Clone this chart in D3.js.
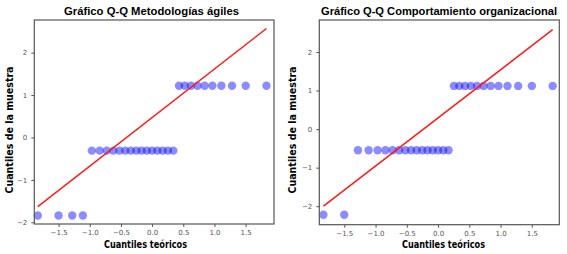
<!DOCTYPE html>
<html><head><meta charset="utf-8">
<script src="https://cdn.jsdelivr.net/npm/d3@7"></script>
<style>html,body{margin:0;padding:0;background:#fff;}svg{display:block;}</style>
</head><body>
<svg id="c" width="567" height="254"></svg>
<script>
const theoQ = [-1.834,-1.501,-1.282,-1.111,-0.967,-0.842,-0.728,-0.623,-0.524,-0.431,-0.341,-0.253,-0.168,-0.084,0,0.084,0.168,0.253,0.341,0.431,0.524,0.623,0.728,0.842,0.967,1.111,1.282,1.501,1.834];
// Sample quantiles, panel 1: Metodologías ágiles
const sampleAgiles = [-1.84,-1.84,-1.84,-1.84,-0.31,-0.31,-0.31,-0.31,-0.31,-0.31,-0.31,-0.31,-0.31,-0.31,-0.31,-0.31,-0.31,-0.31,-0.31,1.22,1.22,1.22,1.22,1.22,1.22,1.22,1.22,1.22,1.22];
// Sample quantiles, panel 2: Comportamiento organizacional
const sampleComport = [-2.22,-2.22,-0.55,-0.55,-0.55,-0.55,-0.55,-0.55,-0.55,-0.55,-0.55,-0.55,-0.55,-0.55,-0.55,-0.55,-0.55,1.12,1.12,1.12,1.12,1.12,1.12,1.12,1.12,1.12,1.12,1.12,1.12];
// Reference lines (x, y endpoints)
const lineAgilesX = [-1.834, 1.834], lineAgilesY = [-1.63, 2.57];
const lineComportX = [-1.834, 1.834], lineComportY = [-2.00, 2.58];
const titles = ["Gráfico Q-Q Metodologías ágiles", "Gráfico Q-Q Comportamiento organizacional"];
const xTicks = [-1.5,-1.0,-0.5,0.0,0.5,1.0,1.5];
const yTicks = [-2,-1,0,1,2];
const xLabel = "Cuantiles teóricos", yLabel = "Cuantiles de la muestra";

const svg = d3.select("#c");
const fmtX = d => (d < 0 ? "\u2212" : "") + Math.abs(d).toFixed(1);
const fmtY = d => (d < 0 ? "\u2212" : "") + Math.abs(d);

function panel(cfg) {
  const g = svg.append("g");
  const x = d3.scaleLinear().domain(cfg.xd).range([cfg.l, cfg.r]);
  const y = d3.scaleLinear().domain(cfg.yd).range([cfg.b, cfg.t]);
  const xa = g.append("g").attr("transform", `translate(0,${cfg.b})`)
    .call(d3.axisBottom(x).tickValues(xTicks).tickFormat(fmtX).tickSize(3).tickPadding(3));
  const ya = g.append("g").attr("transform", `translate(${cfg.l},0)`)
    .call(d3.axisLeft(y).tickValues(yTicks).tickFormat(fmtY).tickSize(3).tickPadding(4));
  [xa, ya].forEach(a => {
    a.select(".domain").remove();
    a.selectAll("line").attr("stroke", "#555");
    a.selectAll("text").attr("fill", "#555").style("font-family", "DejaVu Sans").style("font-size", "7px");
  });
  g.append("g").selectAll("circle").data(cfg.ys).join("circle")
    .attr("cx", (d, i) => x(theoQ[i])).attr("cy", d => y(d)).attr("r", 4.2)
    .attr("fill", "#0000ff").attr("fill-opacity", 0.45);
  g.append("path").datum(cfg.lx.map((v, i) => [v, cfg.ly[i]]))
    .attr("d", d3.line().x(d => x(d[0])).y(d => y(d[1])))
    .attr("stroke", "#ff1a1a").attr("stroke-width", 1.5).attr("fill", "none");
  g.append("rect").attr("x", cfg.l).attr("y", cfg.t).attr("width", cfg.r - cfg.l).attr("height", cfg.b - cfg.t)
    .attr("fill", "none").attr("stroke", "#555").attr("stroke-width", 1.2);
  g.append("text").attr("x", cfg.tx).attr("y", 15).attr("text-anchor", "middle")
    .attr("textLength", cfg.tw).attr("lengthAdjust", "spacingAndGlyphs")
    .style("font-family", "Liberation Sans").style("font-weight", "bold").style("font-size", "11.2px").attr("fill", "#000")
    .text(cfg.title);
  g.append("text").attr("x", cfg.xlx).attr("y", 248).attr("text-anchor", "middle")
    .attr("textLength", 83).attr("lengthAdjust", "spacingAndGlyphs")
    .style("font-family", "DejaVu Sans").style("font-weight", "bold").style("font-size", "10px").attr("fill", "#000")
    .text(xLabel);
  g.append("text").attr("transform", `translate(${cfg.ylx},${cfg.yly}) rotate(-90)`).attr("text-anchor", "middle")
    .attr("textLength", 127).attr("lengthAdjust", "spacingAndGlyphs")
    .style("font-family", "DejaVu Sans").style("font-weight", "bold").style("font-size", "10px").attr("fill", "#000")
    .text(yLabel);
}

panel({l: 34.3, r: 274, t: 20, b: 224, xd: [-1.89, 1.955], yd: [-2.04, 2.77],
  ys: sampleAgiles, lx: lineAgilesX, ly: lineAgilesY, title: titles[0], tx: 151.5, tw: 175,
  xlx: 145.5, ylx: 13, yly: 130});
panel({l: 319.3, r: 559.3, t: 20, b: 224.7, xd: [-1.90, 1.94], yd: [-2.48, 2.83],
  ys: sampleComport, lx: lineComportX, ly: lineComportY, title: titles[1], tx: 439, tw: 236,
  xlx: 443.5, ylx: 296, yly: 130});
</script>
</body></html>
